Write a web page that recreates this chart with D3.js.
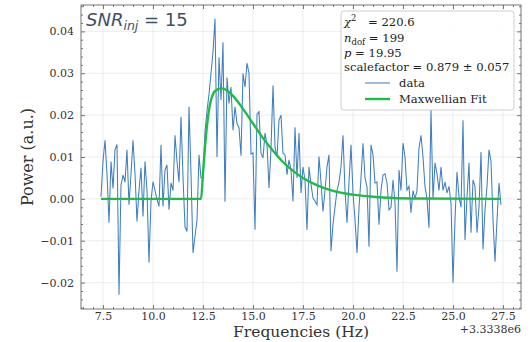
<!DOCTYPE html>
<html>
<head>
<meta charset="utf-8">
<script src="https://cdn.jsdelivr.net/npm/d3@7"></script>
<style>
  body { margin: 0; background: #fff; }
  text { font-family: "DejaVu Serif", serif; }
</style>
</head>
<body>
<div id="mainChart"></div>
<script>
// frequency bins, offset +3.3338e6 Hz removed
const freqStart = 7.4;
const freqStep = 0.1;

const power = [
  0.0005, 0.009, 0.014, 0.006, -0.0057, 0.0089, 0.0025, 0.0117, 0.013, -0.0229,
  0.0033, 0.0057, 0.004, 0.0117, -0.0014, 0.006, 0.014, 0.006, -0.0054, 0.002,
  0.0074, -0.0042, 0.0089, 0.002, -0.0152, -0.0005, 0.0041, 0.002, -0.0002, -0.0018,
  0.0129, -0.0018, 0.0069, 0.0081, -0.0026, 0.0038, 0.002, 0.0152, 0.009, 0.004,
  0.0196, 0.0052, -0.0067, -0.0078, 0.022, 0.006, -0.0129, -0.009, -0.005, 0.0105,
  0.005, 0.005, 0.016, 0.021, 0.025, 0.030, 0.035, 0.043, 0.010, 0.0338,
  0.0236, 0.0374, -0.0007, 0.029, 0.0228, 0.0267, 0.0164, 0.022, 0.018, 0.017,
  0.0103, 0.030, 0.0267, 0.0324, 0.0300, 0.0107, 0.011, -0.0074, 0.0202, 0.0208,
  0.0109, 0.0098, 0.0157, 0.013, 0.0026, 0.012, 0.0271, 0.0124, 0.010, 0.0188,
  0.0200, 0.0109, 0.0105, 0.0058, 0.0093, 0.007, -0.0006, 0.0171, 0.005, 0.0157,
  0.0014, 0.0076, 0.0045, -0.0074, 0.0076, 0.0035, 0.0002, -0.0005, -0.0014, 0.0101,
  0.004, -0.003, 0.002, 0.0076, 0.0105, -0.0125, -0.006, -0.002, 0.002, 0.004,
  0.0076, 0.0152, 0.002, -0.0057, 0.004, 0.0129, 0.0014, -0.005, -0.0129, -0.0021,
  0.005, 0.0133, 0.005, 0.0029, -0.0114, 0.0129, 0.0105, 0.0038, 0.004, -0.0062,
  0.002, 0.0057, 0.006, 0.0038, -0.0026, -0.002, 0.0045, -0.001, -0.0174, 0.0069,
  0.002, 0.0133, 0.010, 0.0021, 0.003, -0.0033, 0.002, 0.0, 0.002, 0.0121,
  0.0152, 0.010, 0.0029, 0.0, -0.0069, 0.0212, 0.0, 0.0086, 0.006, 0.002,
  0.0076, 0.002, 0.004, 0.0014, 0.003, -0.001, -0.020, -0.005, 0.0064, 0.0005,
  -0.002, 0.0188, -0.0098, 0.0005, 0.0086, -0.0081, 0.0045, 0.003, -0.0081, -0.002,
  0.0112, -0.0121, -0.0026, 0.003, 0.0117, 0.009, -0.005, -0.015, -0.005, 0.0038,
  -0.0014
];

const fitFreq = [7.4, 12.4, 12.5, 12.6, 12.7, 12.8, 12.9, 13.0, 13.2, 13.45, 13.7, 14.0,
                 14.5, 15.0, 15.5, 16.0, 16.5, 17.0, 17.5, 18.0, 18.5, 19.0, 20.0, 21.0,
                 22.0, 23.0, 27.4];
const fitPower = [0, 0, 0.006, 0.0124, 0.0175, 0.0212, 0.0236, 0.025, 0.0261, 0.0264, 0.0259, 0.0246,
                  0.0215, 0.018, 0.0145, 0.0115, 0.0088, 0.0067, 0.005, 0.0037, 0.0027, 0.0019, 0.001, 0.0005,
                  0.0002, 0.0001, 0];

const xTicks = [7.5, 10.0, 12.5, 15.0, 17.5, 20.0, 22.5, 25.0, 27.5];
const yTicks = [-0.02, -0.01, 0.00, 0.01, 0.02, 0.03, 0.04];

const CHART_SIZE = { width: 530, height: 342 };
const MARGIN = { top: 5, right: 9, bottom: 33, left: 81 };

const data = power.map((p, i) => [freqStart + i * freqStep, p]);
const fit = fitFreq.map((f, i) => [f, fitPower[i]]);

const x = d3.scaleLinear()
    .domain([6.4, 28.4])
    .range([MARGIN.left, CHART_SIZE.width - MARGIN.right]);
const y = d3.scaleLinear()
    .domain([-0.0263, 0.0463])
    .range([CHART_SIZE.height - MARGIN.bottom, MARGIN.top]);

const x0 = MARGIN.left, x1 = CHART_SIZE.width - MARGIN.right;
const y0 = CHART_SIZE.height - MARGIN.bottom, y1 = MARGIN.top;

const svg = d3.select('#mainChart')
    .append('svg')
    .attr('width', CHART_SIZE.width)
    .attr('height', CHART_SIZE.height);

// grid
const grid = svg.append('g').attr('stroke', '#e8e8e8').attr('stroke-width', 0.8);
grid.selectAll('.gx').data(xTicks).join('line')
    .attr('x1', d => x(d)).attr('x2', d => x(d)).attr('y1', y1).attr('y2', y0);
grid.selectAll('.gy').data(yTicks).join('line')
    .attr('x1', x0).attr('x2', x1).attr('y1', d => y(d)).attr('y2', d => y(d));

const minorX = d3.range(6.5, 28.4, 0.5).filter(v => !xTicks.some(t => Math.abs(t - v) < 1e-6));
const minorY = d3.range(-0.026, 0.0462, 0.002).filter(v => !yTicks.some(t => Math.abs(t - v) < 1e-6));

const fmtY = d => d3.format('.2f')(d).replace('-', '\u2212');

const styleAxis = g => {
    g.attr('font-family', null).attr('font-size', null);
    g.select('.domain').remove();
    g.selectAll('line').attr('stroke', '#555').attr('stroke-width', 0.8);
    g.selectAll('text')
        .attr('fill', '#333')
        .style('font-size', '11px')
        .style('font-family', '"DejaVu Serif", serif');
};

svg.append('g')
    .attr('transform', `translate(0, ${y0})`)
    .call(d3.axisBottom(x).tickValues(xTicks).tickFormat(d3.format('.1f')).tickSize(-4).tickPadding(3))
    .call(styleAxis);
svg.append('g')
    .attr('transform', `translate(0, ${y0})`)
    .call(d3.axisBottom(x).tickValues(minorX).tickFormat('').tickSize(-2))
    .call(styleAxis);
svg.append('g')
    .attr('transform', `translate(0, ${y1})`)
    .call(d3.axisTop(x).tickValues(xTicks).tickFormat('').tickSize(-4))
    .call(styleAxis);
svg.append('g')
    .attr('transform', `translate(0, ${y1})`)
    .call(d3.axisTop(x).tickValues(minorX).tickFormat('').tickSize(-2))
    .call(styleAxis);

svg.append('g')
    .attr('transform', `translate(${x0}, 0)`)
    .call(d3.axisLeft(y).tickValues(yTicks).tickFormat(fmtY).tickSize(-4).tickPadding(7))
    .call(styleAxis);
svg.append('g')
    .attr('transform', `translate(${x0}, 0)`)
    .call(d3.axisLeft(y).tickValues(minorY).tickFormat('').tickSize(-2))
    .call(styleAxis);
svg.append('g')
    .attr('transform', `translate(${x1}, 0)`)
    .call(d3.axisRight(y).tickValues(yTicks).tickFormat('').tickSize(-4))
    .call(styleAxis);
svg.append('g')
    .attr('transform', `translate(${x1}, 0)`)
    .call(d3.axisRight(y).tickValues(minorY).tickFormat('').tickSize(-2))
    .call(styleAxis);

// lines
const line = d3.line().x(d => x(d[0])).y(d => y(d[1]));
svg.append('path')
    .attr('d', line(data))
    .attr('fill', 'none')
    .attr('stroke', '#3f7fbf')
    .attr('stroke-width', 1.05);
svg.append('path')
    .attr('d', line.curve(d3.curveMonotoneX)(fit))
    .attr('fill', 'none')
    .attr('stroke', '#1fbb4a')
    .attr('stroke-width', 2.4);

// frame
svg.append('rect')
    .attr('x', x0).attr('y', y1)
    .attr('width', x1 - x0).attr('height', y0 - y1)
    .attr('fill', 'none').attr('stroke', '#666').attr('stroke-width', 0.9);

// labels
svg.append('text')
    .attr('x', (x0 + x1) / 2).attr('y', 337)
    .attr('text-anchor', 'middle')
    .attr('fill', '#333')
    .style('font-size', '15.5px')
    .text('Frequencies (Hz)');
svg.append('text')
    .attr('x', x1).attr('y', 333)
    .attr('text-anchor', 'end')
    .attr('fill', '#333')
    .style('font-size', '11px')
    .text('+3.3338e6');
svg.append('text')
    .attr('transform', `translate(33, ${(y0 + y1) / 2}) rotate(-90)`)
    .attr('text-anchor', 'middle')
    .attr('fill', '#333')
    .style('font-size', '16px')
    .text('Power (a.u.)');

// SNR annotation
const snr = svg.append('text')
    .attr('x', 86).attr('y', 26)
    .attr('fill', '#3d5166')
    .style('font-size', '18px')
    .style('font-family', '"DejaVu Sans", sans-serif');
snr.append('tspan').style('font-style', 'italic').text('SNR');
snr.append('tspan').attr('dy', 4).style('font-style', 'italic').style('font-size', '12.5px').text('inj');
snr.append('tspan').attr('dy', -4).text(' = 15');

// legend
const lg = svg.append('g');
lg.append('rect')
    .attr('x', 341).attr('y', 11).attr('width', 173).attr('height', 99)
    .attr('rx', 3)
    .attr('fill', 'rgba(255,255,255,0.85)')
    .attr('stroke', '#d0d0d0');

const lt = (yy) => lg.append('text').attr('x', 344).attr('y', yy).attr('fill', '#222').style('font-size', '11.6px');

const t1 = lt(26);
t1.append('tspan').style('font-style', 'italic').text('\u03c7');
t1.append('tspan').attr('dy', -5).style('font-size', '8.5px').text('2');
t1.append('tspan').attr('dy', 5).attr('xml:space', 'preserve').text('\u2002\u2002= 220.6');

const t2 = lt(42);
t2.append('tspan').style('font-style', 'italic').text('n');
t2.append('tspan').attr('dy', 3).style('font-size', '8.5px').text('dof');
t2.append('tspan').attr('dy', -3).text(' = 199');

const t3 = lt(57);
t3.append('tspan').style('font-style', 'italic').text('p');
t3.append('tspan').text(' = 19.95');

lt(71).text('scalefactor = 0.879 \u00b1 0.057');

const legendItems = [
    { label: 'data', color: '#3f7fbf', width: 1.05, y: 83 },
    { label: 'Maxwellian Fit', color: '#1fbb4a', width: 2.4, y: 99 }
];
legendItems.forEach(it => {
    lg.append('line')
        .attr('x1', 365).attr('x2', 390).attr('y1', it.y).attr('y2', it.y)
        .attr('stroke', it.color).attr('stroke-width', it.width);
    lg.append('text')
        .attr('x', 399).attr('y', it.y + 4)
        .attr('fill', '#222')
        .style('font-size', '11.6px')
        .text(it.label);
});
</script>
</body>
</html>
